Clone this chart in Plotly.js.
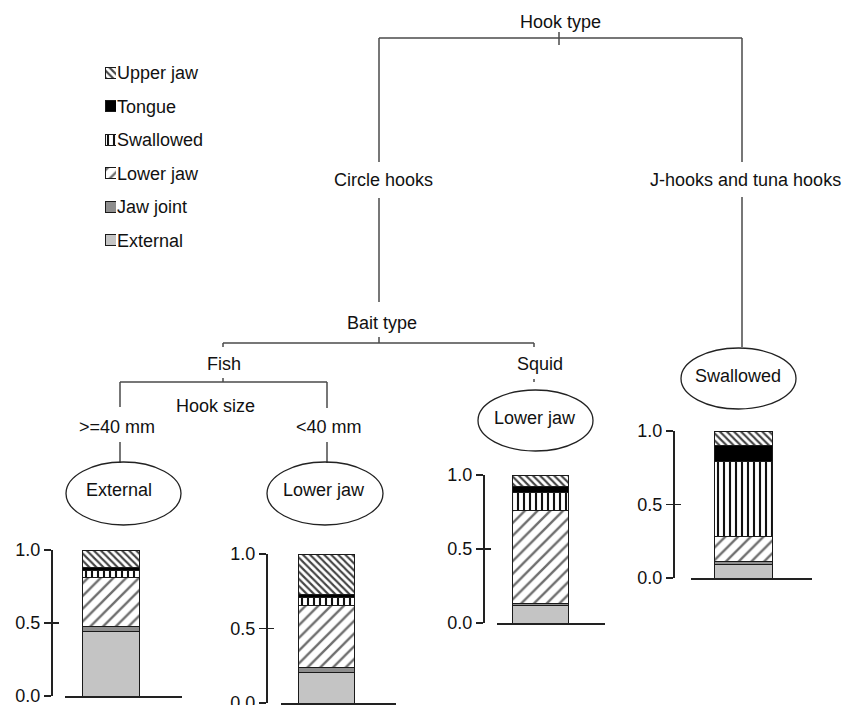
<!DOCTYPE html>
<html><head><meta charset="utf-8">
<script src="https://cdn.plot.ly/plotly-3.0.1.min.js"></script>
<style>html,body{margin:0;padding:0;background:#fff}#chart{width:843px;height:705px}</style>
</head><body><div id="chart"></div>
<script>
// ---------------- DATA ----------------
const categories = ['External','Jaw joint','Lower jaw','Swallowed','Tongue','Upper jaw'];
const legendOrder = ['Upper jaw','Tongue','Swallowed','Lower jaw','Jaw joint','External'];
const nodeNames = ['>=40 mm: External','<40 mm: Lower jaw','Squid: Lower jaw','J-hooks and tuna hooks: Swallowed'];
const externalNode   = [0.445, 0.03, 0.34, 0.045, 0.02, 0.12];
const lowerJawFish   = [0.205, 0.03, 0.42, 0.055, 0.015, 0.275];
const lowerJawSquid  = [0.12, 0.01, 0.63, 0.12, 0.045, 0.075];
const swallowedJHook = [0.09, 0.02, 0.17, 0.51, 0.11, 0.10];
const nodeValues = [externalNode, lowerJawFish, lowerJawSquid, swallowedJHook];
const tickVals = [0, 0.5, 1];
const tickText = ['0.0', '0.5', '1.0'];

// ---------------- STYLE ----------------
const W = 843, H = 705;
const px = x => x / W;
const py = y => 1 - y / H;
const FONT = 'Liberation Sans, Arial, Helvetica, sans-serif';
const TREE = '#4a4a4a';

const styles = {
  'External':  {color:'#c4c4c4', shape:''},
  'Jaw joint': {color:'#8e8e8e', shape:''},
  'Lower jaw': {color:'#ffffff', shape:'/',  fg:'#6e6e6e', size:9, sol:0.26},
  'Swallowed': {color:'#ffffff', shape:'|',  fg:'#111111', size:6, sol:0.35},
  'Tongue':    {color:'#000000', shape:''},
  'Upper jaw': {color:'#ffffff', shape:'\\', fg:'#444444', size:5, sol:0.42}
};
function markerFor(cat){
  const s = styles[cat];
  const m = {color:s.color, line:{color:'#1a1a1a', width:1}};
  if (s.shape) m.pattern = {shape:s.shape, fgcolor:s.fg, bgcolor:s.color, size:s.size, solidity:s.sol, fillmode:'replace'};
  return m;
}

// panel geometry in page pixels
const panels = [
  {axisX:51,  line0:65,  line1:182, bar0:82,  bar1:139, top:550, bottom:696},
  {axisX:266, line0:281, line1:396, bar0:298, bar1:354, top:554, bottom:703},
  {axisX:483, line0:497, line1:605, bar0:512, bar1:568, top:475, bottom:623},
  {axisX:673, line0:691, line1:812, bar0:714, bar1:772, top:431, bottom:578}
];

const traces = [];
const layout = {
  width:W, height:H, margin:{l:0,r:0,t:0,b:0},
  paper_bgcolor:'#ffffff', plot_bgcolor:'rgba(0,0,0,0)',
  showlegend:false, barmode:'stack',
  font:{family:FONT, size:18, color:'#111'},
  shapes:[], annotations:[]
};

panels.forEach((p, i) => {
  const n = i + 1;
  const xa = 'x' + n, ya = 'y' + n;
  categories.forEach((cat, j) => {
    traces.push({type:'bar', x:[0], y:[nodeValues[i][j]], width:[1], name:cat,
      xaxis:xa, yaxis:ya, marker:markerFor(cat), hoverinfo:'skip'});
  });
  // dummy trace so the overlaying tick axis is drawn
  traces.push({type:'scatter', x:[], y:[], xaxis:xa, yaxis:'y' + (n + 5), hoverinfo:'skip'});
  const unit = p.bar1 - p.bar0;
  const center = (p.bar0 + p.bar1) / 2;
  layout['xaxis' + n] = {
    domain:[px(p.line0), px(p.line1)], anchor:ya,
    range:[(p.line0 - center) / unit, (p.line1 - center) / unit],
    showline:true, linecolor:'#222', linewidth:1.5, ticks:'', showticklabels:false,
    showgrid:false, zeroline:false, fixedrange:true
  };
  const yBase = {
    domain:[py(p.bottom), py(p.top)], anchor:'free', position:px(p.axisX),
    range:[0, 1], tickmode:'array', tickvals:tickVals, ticktext:tickText,
    ticklabeloverflow:'allow',
    showgrid:false, zeroline:false, fixedrange:true
  };
  layout['yaxis' + n] = Object.assign({}, yBase, {
    showline:true, linecolor:'#222', linewidth:1.5,
    ticks:'outside', ticklen:7, tickwidth:1.5, tickcolor:'#222',
    tickfont:{family:FONT, size:18, color:'#111'}
  });
  layout['yaxis' + (n + 5)] = Object.assign({}, yBase, {
    overlaying:ya, showline:false, showticklabels:false,
    ticks:'inside', ticklen:7, tickwidth:1.5, tickcolor:'#222'
  });
});

// legend as a small subplot with swatches and labels (one trace per swatch)
legendOrder.forEach(cat => {
  traces.push({type:'bar', orientation:'h', y:[cat], x:[1], base:0, width:0.34,
    xaxis:'x5', yaxis:'y5', hoverinfo:'skip', name:cat, marker:markerFor(cat)});
});
layout.xaxis5 = {domain:[px(105), px(116)], anchor:'y5', range:[0, 1], visible:false, fixedrange:true};
layout.yaxis5 = {domain:[py(257), py(56)], anchor:'x5', type:'category',
  categoryorder:'array', categoryarray:legendOrder, autorange:'reversed', side:'right',
  showline:false, ticks:'', showgrid:false, zeroline:false, fixedrange:true,
  ticklabeloverflow:'allow',
  tickfont:{family:FONT, size:18, color:'#111'}};

// tree connectors
const seg = (x0, y0, x1, y1) => ({type:'line', xref:'paper', yref:'paper',
  x0:px(x0), y0:py(y0), x1:px(x1), y1:py(y1), line:{color:TREE, width:1.5}});
layout.shapes.push(
  seg(559, 32, 559, 45), seg(379, 38, 742, 38),
  seg(379, 38, 379, 162), seg(742, 38, 742, 162),
  seg(379, 198, 379, 302), seg(742, 197, 742, 347),
  seg(379, 337, 379, 343), seg(223, 343, 534, 343),
  seg(223, 343, 223, 347), seg(534, 343, 534, 347),
  seg(223, 378, 223, 382), seg(534, 379, 534, 382),
  seg(120, 382, 327, 382),
  seg(120, 382, 120, 407), seg(327, 382, 327, 408),
  seg(120, 442, 120, 463), seg(327, 442, 327, 463)
);
const ell = (x0, y0, x1, y1) => ({type:'circle', xref:'paper', yref:'paper',
  x0:px(x0), y0:py(y1), x1:px(x1), y1:py(y0), line:{color:'#222', width:1.3}, fillcolor:'rgba(0,0,0,0)'});
layout.shapes.push(ell(66, 462, 181, 525), ell(267, 462, 383, 525), ell(478, 390, 593, 451), ell(681, 348, 796, 409));

const label = (t, x, y, anchor) => ({text:t, x:px(x), y:py(y), xref:'paper', yref:'paper',
  showarrow:false, xanchor:anchor || 'center', yanchor:'middle',
  font:{family:FONT, size:18, color:'#111'}});
layout.annotations.push(
  label('Hook type', 560, 22),
  label('Circle hooks', 383, 180),
  label('J-hooks and tuna hooks', 648, 180, 'left'),
  label('Bait type', 382, 323),
  label('Fish', 224, 364),
  label('Squid', 540, 364),
  label('Hook size', 215, 406),
  label('&gt;=40 mm', 117, 427),
  label('&lt;40 mm', 329, 427),
  label('External', 119, 490),
  label('Lower jaw', 324, 490),
  label('Lower jaw', 535, 418),
  label('Swallowed', 738, 376)
);

Plotly.newPlot('chart', traces, layout, {staticPlot:true, displayModeBar:false});
</script>
</body></html>
